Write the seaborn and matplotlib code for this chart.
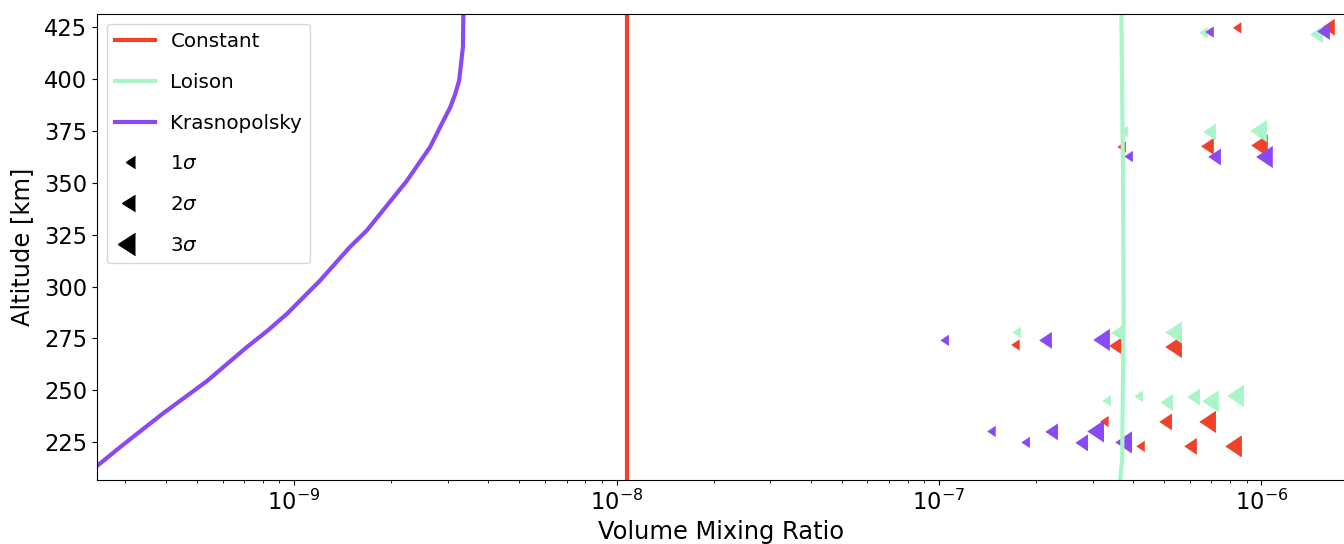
import numpy as np
import pandas as pd
import matplotlib
matplotlib.use("Agg")
import matplotlib.pyplot as plt
import seaborn as sns
from matplotlib.lines import Line2D

# ---------------- data ----------------
models = ["Constant", "Loison", "Krasnopolsky"]
model_colors = ["#f0412b", "#aaf5c8", "#8b48f5"]

const_alt = [200, 440]
const_vmr = [1.08e-8, 1.08e-8]

loison_alt = [206, 216, 255, 289, 358, 432]
loison_vmr = [3.64e-7, 3.70e-7, 3.72e-7, 3.74e-7, 3.72e-7, 3.68e-7]

kras_alt = [205, 213.6, 222.7, 238.6, 254.5, 270.8, 278.6, 286.8, 302.7,
            319.1, 327.0, 341.2, 351.1, 359.1, 367.2, 379.8, 386.4, 392.8,
            399.3, 415.5, 431.4, 436]
kras_vmr = [2.1e-10, 2.45e-10, 2.89e-10, 3.90e-10, 5.37e-10, 7.13e-10,
            8.25e-10, 9.49e-10, 1.20e-9, 1.49e-9, 1.68e-9, 1.99e-9, 2.24e-9,
            2.43e-9, 2.64e-9, 2.90e-9, 3.05e-9, 3.16e-9, 3.25e-9, 3.34e-9,
            3.35e-9, 3.36e-9]

# detections (altitude, VMR, significance level)
const_det_alt = [424.7, 425.0, 367.3, 367.6, 368.0, 271.9, 271.4, 270.9,
                 235.0, 234.8, 234.8, 223.0, 223.0, 223.0]
const_det_vmr = [8.67e-7, 1.69e-6, 3.80e-7, 7.12e-7, 1.047e-6, 1.78e-7,
                 3.69e-7, 5.67e-7, 3.36e-7, 5.28e-7, 7.23e-7, 4.35e-7,
                 6.31e-7, 8.70e-7]
const_det_sig = [1, 2, 1, 2, 3, 1, 2, 3, 1, 2, 3, 1, 2, 3]

loison_det_alt = [422.3, 421.5, 374.8, 374.5, 375.0, 277.9, 277.7, 277.9,
                  245.0, 247.1, 244.2, 246.8, 244.7, 247.3]
loison_det_vmr = [6.82e-7, 1.551e-6, 3.855e-7, 7.23e-7, 1.04e-6, 1.796e-7,
                  3.746e-7, 5.67e-7, 3.415e-7, 4.29e-7, 5.32e-7, 6.45e-7,
                  7.38e-7, 8.83e-7]
loison_det_sig = [1, 2, 1, 2, 3, 1, 2, 3, 1, 1, 2, 2, 3, 3]

kras_det_alt = [422.7, 423.0, 362.7, 362.5, 362.5, 274.1, 274.1, 274.3,
                230.2, 224.9, 230.0, 224.7, 230.2, 224.9]
kras_det_vmr = [7.12e-7, 1.631e-6, 3.995e-7, 7.49e-7, 1.085e-6, 1.074e-7,
                2.24e-7, 3.39e-7, 1.50e-7, 1.915e-7, 2.34e-7, 2.90e-7,
                3.25e-7, 3.97e-7]
kras_det_sig = [1, 2, 1, 2, 3, 1, 2, 3, 1, 1, 2, 2, 3, 3]

sigma_levels = [1, 2, 3]
sigma_labels = [r"1$\sigma$", r"2$\sigma$", r"3$\sigma$"]
x_ticks = [1e-9, 1e-8, 1e-7, 1e-6]
y_ticks = [225, 250, 275, 300, 325, 350, 375, 400, 425]

# ---------------- figure ----------------
W, H = 1344, 544
fig = plt.figure(figsize=(W / 100, H / 100), dpi=100)
ax = fig.add_axes([97 / W, 64 / H, 1249 / W, 466 / H])

det = pd.concat([
    pd.DataFrame({"alt": const_det_alt, "vmr": const_det_vmr,
                  "sigma": const_det_sig, "model": models[0]}),
    pd.DataFrame({"alt": loison_det_alt, "vmr": loison_det_vmr,
                  "sigma": loison_det_sig, "model": models[1]}),
    pd.DataFrame({"alt": kras_det_alt, "vmr": kras_det_vmr,
                  "sigma": kras_det_sig, "model": models[2]}),
], ignore_index=True)

ms_pt = {1: 8.2, 2: 12.2, 3: 16.0}
marker = 8  # CARETLEFTBASE

sns.scatterplot(data=det, x="vmr", y="alt", hue="model", size="sigma",
                sizes={k: v ** 2 for k, v in ms_pt.items()},
                palette=dict(zip(models, model_colors)), marker=marker,
                linewidth=0, legend=False, ax=ax)

for xs, ys, c in [(const_vmr, const_alt, model_colors[0]),
                  (loison_vmr, loison_alt, model_colors[1]),
                  (kras_vmr, kras_alt, model_colors[2])]:
    sns.lineplot(x=xs, y=ys, sort=False, estimator=None, color=c, lw=3,
                 ax=ax)

ax.set_xscale("log")
ax.set_xlim(2.448e-10, 1.83e-6)
ax.set_ylim(206.8, 431.4)
ax.set_xticks(x_ticks)
ax.set_yticks(y_ticks)
ax.tick_params(axis="both", which="major", labelsize=16.3)
ax.set_xlabel("Volume Mixing Ratio", fontsize=17.4)
ax.set_ylabel("Altitude [km]", fontsize=17.4, labelpad=7)

handles = [Line2D([], [], color=c, lw=3) for c in model_colors]
handles += [Line2D([], [], ls="none", marker=marker, color="k",
                   markersize=ms_pt[s]) for s in sigma_levels]
ax.legend(handles, models + sigma_labels, loc="upper left", fontsize=14.3,
          labelspacing=1.1, handlelength=2.0)

fig.savefig("out.png", dpi=100)
